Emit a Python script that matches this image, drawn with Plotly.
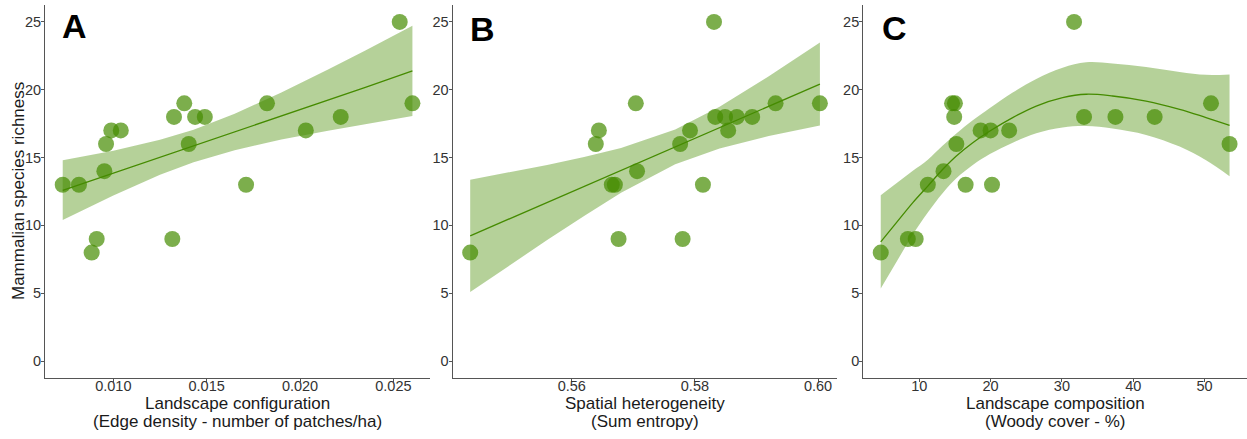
import numpy as np
import plotly.graph_objects as go

# ---------------- data ----------------
richness = [13, 13, 14, 16, 17, 17, 18, 19, 16, 18, 18, 13, 19, 17, 18, 25, 19, 8, 9, 9]

edge_density = [0.00729, 0.00816, 0.00952, 0.00961, 0.00989, 0.0104, 0.01325, 0.0138,
                0.01404, 0.01438, 0.0149, 0.01711, 0.01823, 0.02031, 0.02218, 0.02534,
                0.02602, 0.00884, 0.00911, 0.01316]

richness_b = [25, 19, 17, 16, 13, 13, 14, 16, 17, 13, 18, 18, 17, 18, 18, 19, 19, 8, 9, 9]
sum_entropy = [0.5831, 0.5704, 0.5644, 0.5639, 0.5665, 0.5670, 0.5706, 0.5776, 0.5792,
               0.5813, 0.5833, 0.5849, 0.5854, 0.5868, 0.5893, 0.5931, 0.6003, 0.5435,
               0.5676, 0.5780]

richness_c = [25, 13, 14, 19, 19, 18, 16, 13, 17, 17, 13, 17, 18, 18, 18, 19, 16, 8, 9, 9]
woody_cover = [31.7, 11.2, 13.4, 14.6, 15.0, 14.9, 15.2, 16.5, 18.6, 20.0, 20.2, 22.6,
               33.1, 37.5, 43.0, 50.9, 53.5, 4.6, 8.4, 9.5]

# fitted curves and confidence bands
fit_a_x = [0.00729, 0.0100, 0.0125, 0.0143, 0.0165, 0.0190, 0.0215, 0.0235, 0.02602]
fit_a_y = [12.59, 13.85, 15.02, 15.86, 16.89, 18.06, 19.23, 20.17, 21.39]
fit_a_lo = [10.4, 12.2, 13.73, 14.66, 15.55, 16.33, 16.97, 17.45, 18.06]
fit_a_hi = [14.8, 15.5, 16.31, 17.06, 18.23, 19.79, 21.49, 22.89, 24.72]

fit_b_x = [0.5435, 0.550, 0.556, 0.562, 0.568, 0.5768, 0.584, 0.592, 0.6003]
fit_b_y = [9.23, 10.51, 11.69, 12.87, 14.05, 15.79, 17.21, 18.79, 20.42]
fit_b_lo = [5.09, 7.09, 8.92, 10.7, 12.4, 14.51, 15.67, 16.59, 17.36]
fit_b_hi = [13.37, 13.93, 14.46, 15.04, 15.7, 17.07, 18.75, 20.99, 23.48]

fit_c_x = [4.6, 6.8, 9.1, 11.2, 13.3, 15.2, 17.5, 19.9, 23.1, 26.4, 30.1, 33.4, 37.1,
           41.8, 46.5, 50.2, 53.5]
fit_c_y = [8.78, 10.2, 11.68, 12.9, 14.14, 15.12, 16.1, 16.96, 17.95, 18.8, 19.42, 19.67,
           19.54, 19.17, 18.56, 17.95, 17.38]
fit_c_lo = [5.34, 7.3, 9.33, 10.95, 12.39, 13.47, 14.45, 15.26, 16.1, 16.8, 17.22, 17.32,
            17.14, 16.67, 15.81, 14.8, 13.63]
fit_c_hi = [12.22, 13.1, 14.03, 14.85, 15.89, 16.77, 17.75, 18.66, 19.8, 20.8, 21.62,
            22.02, 21.94, 21.67, 21.31, 21.1, 21.13]

panel_letters = ["A", "B", "C"]
x_title_lines = [["Landscape configuration", "(Edge density - number of patches/ha)"],
                 ["Spatial heterogeneity", "(Sum entropy)"],
                 ["Landscape composition", "(Woody cover - %)"]]
y_title = "Mammalian species richness"
y_ticks = [0, 5, 10, 15, 20, 25]

# ---------------- style ----------------
PT = "rgba(69,139,0,0.70)"
RIB = "rgba(69,139,0,0.40)"
LINE = "rgb(69,139,0)"
AX = "#555555"
FONT = "Liberation Sans, Arial, sans-serif"

W, H = 1247, 439
ML, MR, MT, MB = 45, 0, 5, 61
pw = W - ML - MR
ph = H - MT - MB
doms = [[0.0002, 384.9 / pw], [(452.7 - ML) / pw, (837.4 - ML) / pw], [(863.3 - ML) / pw, 1.0]]

panels = [
    (edge_density, richness, fit_a_x, fit_a_y, fit_a_lo, fit_a_hi, "linear"),
    (sum_entropy, richness_b, fit_b_x, fit_b_y, fit_b_lo, fit_b_hi, "linear"),
    (woody_cover, richness_c, fit_c_x, fit_c_y, fit_c_lo, fit_c_hi, "spline"),
]

fig = go.Figure()
for i, (xs, ys, fx, fy, flo, fhi, shape) in enumerate(panels):
    xa = "x" if i == 0 else f"x{i+1}"
    ya = "y" if i == 0 else f"y{i+1}"
    fig.add_trace(go.Scatter(x=xs, y=ys, mode="markers", xaxis=xa, yaxis=ya,
                             marker=dict(size=16, color=PT, line=dict(width=0)),
                             showlegend=False, hoverinfo="x+y"))
    fig.add_trace(go.Scatter(x=fx, y=flo, mode="lines", xaxis=xa, yaxis=ya,
                             line=dict(width=0, shape=shape, color=RIB),
                             showlegend=False, hoverinfo="skip"))
    fig.add_trace(go.Scatter(x=fx, y=fhi, mode="lines", xaxis=xa, yaxis=ya,
                             line=dict(width=0, shape=shape, color=RIB),
                             fill="tonexty", fillcolor=RIB,
                             showlegend=False, hoverinfo="skip"))
    fig.add_trace(go.Scatter(x=fx, y=fy, mode="lines", xaxis=xa, yaxis=ya,
                             line=dict(width=1.3, shape=shape, color=LINE),
                             showlegend=False, hoverinfo="skip"))

xtick_cfg = [
    dict(tickvals=[0.010, 0.015, 0.020, 0.025], tickformat=".3f"),
    dict(tickvals=[0.56, 0.58, 0.60], tickformat=".2f"),
    dict(tickvals=[10, 20, 30, 40, 50], tickformat="d"),
]
all_x = [edge_density, sum_entropy, woody_cover]

layout = dict(
    width=W, height=H, margin=dict(l=ML, r=MR, t=MT, b=MB),
    paper_bgcolor="white", plot_bgcolor="white",
    font=dict(family=FONT, color="#222222"),
    showlegend=False,
)
for i in range(3):
    xk = "xaxis" if i == 0 else f"xaxis{i+1}"
    yk = "yaxis" if i == 0 else f"yaxis{i+1}"
    xmin, xmax = float(np.min(all_x[i])), float(np.max(all_x[i]))
    pad = 0.05 * (xmax - xmin)
    layout[xk] = dict(
        domain=doms[i], range=[xmin - pad, xmax + pad],
        anchor="y" if i == 0 else f"y{i+1}",
        showgrid=False, zeroline=False, showline=True, linecolor=AX, linewidth=1.3,
        ticks="outside", ticklen=3, tickcolor=AX, tickwidth=1,
        ticklabelstandoff=-9,
        tickfont=dict(size=14.5, color="#333333", family=FONT),
        **xtick_cfg[i],
    )
    layout[yk] = dict(
        domain=[0, 1], range=[-1.25, 26.25],
        anchor="x" if i == 0 else f"x{i+1}",
        showgrid=False, zeroline=False, showline=True, linecolor=AX, linewidth=1.3,
        ticks="outside", ticklen=3, tickcolor=AX, tickwidth=1,
        ticklabelstandoff=-3,
        tickvals=y_ticks, tickfont=dict(size=14.5, color="#333333", family=FONT),
    )

annotations = [dict(
    text=y_title, showarrow=False, textangle=-90,
    xref="paper", yref="y domain", x=(18.5 - ML) / pw, y=0.5,
    xanchor="center", yanchor="middle",
    font=dict(size=17, color="#1a1a1a", family=FONT),
)]
for i, letter in enumerate(panel_letters):
    xd = ("x" if i == 0 else f"x{i+1}") + " domain"
    yd = ("y" if i == 0 else f"y{i+1}") + " domain"
    annotations.append(dict(
        text=f"<b>{letter}</b>", showarrow=False, xref=xd, yref=yd,
        x=[0.077, 0.078, 0.082][i], y=[0.945, 0.935, 0.937][i],
        xanchor="center", yanchor="middle",
        font=dict(size=34, color="black", family=FONT),
    ))
    for j, line in enumerate(x_title_lines[i]):
        ypix = [403.5, 421.5][j]
        annotations.append(dict(
            text=line, showarrow=False, xref=xd, yref=yd,
            x=0.5, y=-(ypix - (MT + ph)) / ph, xanchor="center", yanchor="middle",
            font=dict(size=17, color="#1a1a1a", family=FONT),
        ))
layout["annotations"] = annotations

fig.update_layout(**layout)
fig.write_html("out.html", config={"displayModeBar": False},
               post_script="document.body.style.margin='0';document.body.style.padding='0';")
